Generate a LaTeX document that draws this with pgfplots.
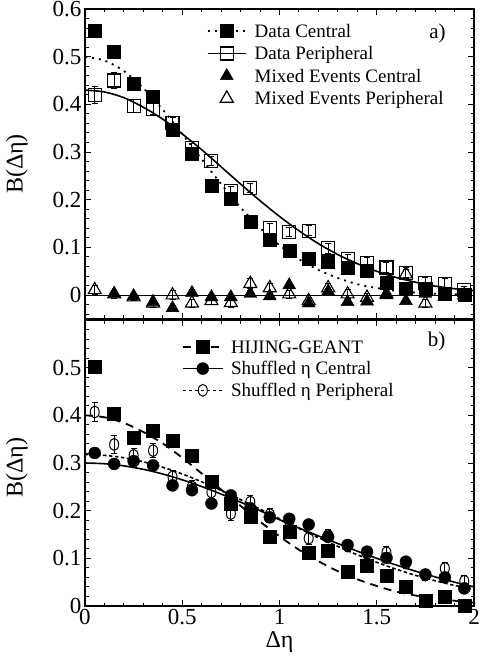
\documentclass[border=0pt]{standalone}
\usepackage{fontspec}
\setmainfont{Liberation Serif}
\usepackage{pgfplots}
\pgfplotsset{compat=1.18}
\tikzset{
 dotline/.style={line width=1.8pt, dash pattern=on 2pt off 5pt},
 fitline/.style={line width=1.6pt},
 longdash/.style={line width=1.8pt, dash pattern=on 8pt off 6pt},
 shortdash/.style={line width=1.6pt, dash pattern=on 3.5pt off 2.5pt},
}
\pgfplotsset{
 panel/.style={
  scale only axis, width=389pt, xmin=0, xmax=2,
  axis line style={line width=1.3pt},
  tick align=inside,
  major tick length=6pt, minor tick length=3.5pt,
  every tick/.style={black, line width=1pt},
  xtick={0,0.5,1,1.5,2},
  minor xtick={0.1,0.2,...,1.9},
  tick label style={font=\fontsize{23}{26}\selectfont},
  /pgf/number format/assume math mode=true,
  label style={font=\fontsize{24}{28}\selectfont},
  legend cell align=left,
  legend style={draw=none, fill=none, inner sep=0pt, anchor=north west,
    font=\fontsize{19}{22}\selectfont,
    nodes={inner sep=0pt, text height=14.5pt, text depth=2pt}},
 },
}
\begin{document}
\begin{tikzpicture}
% ---------------- panel a ----------------
\begin{axis}[panel, name=a, at={(0pt,287pt)}, anchor=south west,
  height=310pt, ymin=-0.05, ymax=0.6,
  ytick={0,0.1,0.2,0.3,0.4,0.5,0.6},
  minor ytick={-0.04,-0.02,0.02,0.04,0.06,0.08,0.12,0.14,0.16,0.18,0.22,0.24,0.26,0.28,0.32,0.34,0.36,0.38,0.42,0.44,0.46,0.48,0.52,0.54,0.56,0.58},
  xticklabels={},
  ylabel={B(Δη)},
  ylabel style={at={(axis description cs:-0.175,0.5)}, anchor=center},
  legend style={at={(0.3128,0.9566)}, row sep=6pt, column sep=8pt},
]
\addlegendimage{legend image code/.code={
  \path[draw=none,fill=none] (0pt,-6pt) rectangle (38pt,6pt);
  \draw[black,dotline] (0pt,0pt) -- (38pt,0pt);
  \draw[black,solid] plot[only marks, mark=square*, mark size=6.5pt] coordinates {(19pt,0pt)};}}
\addlegendentry{Data Central}
\addlegendimage{legend image code/.code={
  \path[draw=none,fill=none] (0pt,-6pt) rectangle (38pt,6pt);
  \draw[black,fitline] (0pt,0pt) -- (38pt,0pt);
  \draw[black,line width=1.2pt] plot[only marks, mark=square, mark size=6.5pt, mark options={fill=white}] coordinates {(19pt,0pt)};}}
\addlegendentry{Data Peripheral}
\addlegendimage{legend image code/.code={
  \path[draw=none,fill=none] (0pt,-6pt) rectangle (38pt,6pt);
  \draw[black] plot[only marks, mark=triangle*, mark size=7.5pt] coordinates {(19pt,0pt)};}}
\addlegendentry{Mixed Events Central}
\addlegendimage{legend image code/.code={
  \path[draw=none,fill=none] (0pt,-6pt) rectangle (38pt,6pt);
  \draw[black,line width=1.2pt] plot[only marks, mark=triangle, mark size=7.5pt] coordinates {(19pt,0pt)};}}
\addlegendentry{Mixed Events Peripheral}

\addplot[black, line width=1.2pt, forget plot] coordinates {(0,0) (2,0)};

% Mixed events peripheral (open triangles)
\addplot[black, only marks, mark=triangle, mark size=7.5pt, line width=1.1pt, forget plot,
  error bars/.cd, y dir=both, y explicit,
  error bar style={line width=1pt}, error mark options={rotate=90, mark size=3pt, line width=1pt}]
 coordinates {
 (0.05,0.011) +- (0,0.010) (0.15,0.002) +- (0,0.008) (0.25,-0.004) +- (0,0.008)
 (0.35,-0.017) +- (0,0.009) (0.45,0.000) +- (0,0.010) (0.55,-0.017) +- (0,0.008)
 (0.65,-0.012) +- (0,0.008) (0.75,-0.016) +- (0,0.009) (0.85,0.024) +- (0,0.010)
 (0.95,0.015) +- (0,0.009) (1.05,0.002) +- (0,0.008) (1.15,-0.012) +- (0,0.008)
 (1.25,0.015) +- (0,0.009) (1.35,0.002) +- (0,0.009) (1.45,-0.005) +- (0,0.008)
 (1.55,0.002) +- (0,0.008) (1.65,0.044) +- (0,0.010) (1.75,-0.017) +- (0,0.008)
 (1.85,-0.002) +- (0,0.008) (1.95,0.000) +- (0,0.008)
 };
% Mixed events central (filled triangles)
\addplot[black, only marks, mark=triangle*, mark size=7.5pt, forget plot,
  error bars/.cd, y dir=both, y explicit,
  error bar style={line width=1pt}, error mark options={rotate=90, mark size=3pt, line width=1pt}]
 coordinates {
 (0.15,0.003) +- (0,0.006) (0.25,-0.002) +- (0,0.006) (0.35,-0.014) +- (0,0.006)
 (0.45,-0.027) +- (0,0.006) (0.55,0.005) +- (0,0.006) (0.65,-0.004) +- (0,0.006)
 (0.75,-0.004) +- (0,0.006) (0.85,0.003) +- (0,0.006) (0.95,-0.002) +- (0,0.006)
 (1.05,0.021) +- (0,0.006) (1.15,-0.017) +- (0,0.006) (1.25,0.008) +- (0,0.006)
 (1.35,-0.014) +- (0,0.006) (1.45,-0.013) +- (0,0.006) (1.55,0.000) +- (0,0.006)
 (1.65,-0.012) +- (0,0.006) (1.75,0.003) +- (0,0.006) (1.85,-0.003) +- (0,0.006)
 (1.95,0.000) +- (0,0.006)
 };
% Data peripheral (open squares)
\addplot[black, only marks, mark=square, mark size=6.5pt, line width=1.1pt, forget plot,
  error bars/.cd, y dir=both, y explicit,
  error bar style={line width=1pt}, error mark options={rotate=90, mark size=3pt, line width=1pt}]
 coordinates {
 (0.05,0.420) +- (0,0.018) (0.15,0.450) +- (0,0.017) (0.25,0.396) +- (0,0.014)
 (0.35,0.390) +- (0,0.012) (0.45,0.361) +- (0,0.011) (0.55,0.309) +- (0,0.010)
 (0.65,0.281) +- (0,0.010) (0.75,0.218) +- (0,0.010) (0.85,0.225) +- (0,0.010)
 (0.95,0.140) +- (0,0.010) (1.05,0.132) +- (0,0.010) (1.15,0.135) +- (0,0.010)
 (1.25,0.098) +- (0,0.010) (1.35,0.075) +- (0,0.010) (1.45,0.068) +- (0,0.010)
 (1.55,0.058) +- (0,0.010) (1.65,0.047) +- (0,0.010) (1.75,0.026) +- (0,0.010)
 (1.85,0.024) +- (0,0.010) (1.95,0.010) +- (0,0.008)
 };
% Data central (filled squares)
\addplot[black, only marks, mark=square*, mark size=6.5pt, forget plot]
 coordinates {
 (0.05,0.555) (0.15,0.511) (0.25,0.444) (0.35,0.416) (0.45,0.346)
 (0.55,0.297) (0.65,0.230) (0.75,0.202) (0.85,0.153) (0.95,0.116)
 (1.05,0.094) (1.15,0.076) (1.25,0.071) (1.35,0.057) (1.45,0.052)
 (1.55,0.026) (1.65,0.014) (1.75,0.013) (1.85,0.004) (1.95,0.000)
 };
% fit curves
\addplot[black, fitline, smooth, forget plot] coordinates {
 (0,0.430) (0.1,0.426) (0.2,0.414) (0.3,0.394) (0.4,0.369) (0.5,0.338)
 (0.6,0.305) (0.7,0.269) (0.8,0.233) (0.9,0.198) (1.0,0.165) (1.1,0.135)
 (1.2,0.108) (1.3,0.085) (1.4,0.066) (1.5,0.050) (1.6,0.037) (1.7,0.027)
 (1.8,0.019) (1.9,0.0135) (2.0,0.0093)
 };
\addplot[black, dotline, smooth, forget plot] coordinates {
 (0,0.500) (0.1,0.492) (0.2,0.470) (0.3,0.434) (0.4,0.389) (0.5,0.338)
 (0.6,0.285) (0.7,0.233) (0.8,0.184) (0.9,0.141) (1.0,0.105) (1.1,0.0755)
 (1.2,0.053) (1.3,0.036) (1.4,0.023) (1.5,0.015) (1.6,0.009) (1.7,0.0055)
 (1.8,0.003) (1.9,0.002) (2.0,0.001)
 };
\node[font=\fontsize{21}{24}\selectfont] at (axis description cs:0.906,0.92) {a)};
\end{axis}
% ---------------- panel b ----------------
\begin{axis}[panel, name=b, at={(0pt,0pt)}, anchor=south west,
  height=286pt, ymin=0, ymax=0.6,
  ytick={0,0.1,0.2,0.3,0.4,0.5,0.6},
  yticklabels={0,0.1,0.2,0.3,0.4,0.5,{}},
  minor ytick={0.02,0.04,0.06,0.08,0.12,0.14,0.16,0.18,0.22,0.24,0.26,0.28,0.32,0.34,0.36,0.38,0.42,0.44,0.46,0.48,0.52,0.54,0.56,0.58},
  xlabel={Δη},
  xlabel style={at={(axis description cs:0.5,-0.126)}, anchor=center},
  ylabel={B(Δη)},
  ylabel style={at={(axis description cs:-0.175,0.483)}, anchor=center},
  legend style={at={(0.2486,0.9355)}, row sep=5.2pt, column sep=7.3pt},
]
\addlegendimage{legend image code/.code={
  \path[draw=none,fill=none] (0pt,-6pt) rectangle (40pt,6pt);
  \draw[black,longdash] (0pt,0pt) -- (40pt,0pt);
  \draw[black,solid] plot[only marks, mark=square*, mark size=6.5pt] coordinates {(20pt,0pt)};}}
\addlegendentry{HIJING-GEANT}
\addlegendimage{legend image code/.code={
  \path[draw=none,fill=none] (0pt,-6pt) rectangle (40pt,6pt);
  \draw[black,fitline] (0pt,0pt) -- (40pt,0pt);
  \draw[black] plot[only marks, mark=*, mark size=6pt] coordinates {(20pt,0pt)};}}
\addlegendentry{Shuffled η Central}
\addlegendimage{legend image code/.code={
  \path[draw=none,fill=none] (0pt,-6pt) rectangle (40pt,6pt);
  \draw[black,shortdash] (0pt,0pt) -- (40pt,0pt);
  \draw[black,line width=1pt,solid] plot[only marks, mark=o, mark size=6pt, mark options={solid, xscale=0.75}] coordinates {(20pt,0pt)};}}
\addlegendentry{Shuffled η Peripheral}

% HIJING-GEANT (filled squares)
\addplot[black, only marks, mark=square*, mark size=6.5pt, forget plot]
 coordinates {
 (0.05,0.503) (0.15,0.404) (0.25,0.353) (0.35,0.367) (0.45,0.346)
 (0.55,0.316) (0.65,0.260) (0.75,0.215) (0.85,0.188) (0.95,0.145)
 (1.05,0.156) (1.15,0.111) (1.25,0.115) (1.35,0.071) (1.45,0.085)
 (1.55,0.063) (1.65,0.040) (1.75,0.011) (1.85,0.020) (1.95,0.001)
 };
% Shuffled peripheral (open circles)
\addplot[black, only marks, mark=o, mark size=6pt, mark options={xscale=0.75}, line width=1pt, forget plot,
  error bars/.cd, y dir=both, y explicit,
  error bar style={line width=1pt}, error mark options={rotate=90, mark size=3pt, line width=1pt}]
 coordinates {
 (0.05,0.407) +- (0,0.019) (0.15,0.339) +- (0,0.019) (0.25,0.316) +- (0,0.015)
 (0.35,0.326) +- (0,0.015) (0.45,0.271) +- (0,0.014) (0.55,0.250) +- (0,0.013)
 (0.65,0.239) +- (0,0.013) (0.75,0.194) +- (0,0.015) (0.85,0.218) +- (0,0.013)
 (0.95,0.192) +- (0,0.012) (1.05,0.178) +- (0,0.012) (1.15,0.142) +- (0,0.012)
 (1.25,0.148) +- (0,0.012) (1.35,0.126) +- (0,0.012) (1.45,0.110) +- (0,0.012)
 (1.55,0.112) +- (0,0.012) (1.65,0.090) +- (0,0.012) (1.75,0.065) +- (0,0.012)
 (1.85,0.079) +- (0,0.012) (1.95,0.052) +- (0,0.012)
 };
% Shuffled central (filled circles)
\addplot[black, only marks, mark=*, mark size=6pt, forget plot]
 coordinates {
 (0.05,0.321) (0.15,0.298) (0.25,0.304) (0.35,0.295) (0.45,0.253)
 (0.55,0.243) (0.65,0.215) (0.75,0.232) (0.85,0.205) (0.95,0.186)
 (1.05,0.183) (1.15,0.171) (1.25,0.145) (1.35,0.128) (1.45,0.114)
 (1.55,0.101) (1.65,0.093) (1.75,0.066) (1.85,0.060) (1.95,0.037)
 };
% curves
\addplot[black, longdash, smooth, forget plot] coordinates {
 (0,0.400) (0.1,0.396) (0.2,0.384) (0.3,0.365) (0.4,0.341) (0.5,0.311)
 (0.6,0.278) (0.7,0.244) (0.8,0.210) (0.9,0.177) (1.0,0.146) (1.1,0.118)
 (1.2,0.094) (1.3,0.073) (1.4,0.056) (1.5,0.042) (1.6,0.030) (1.7,0.022)
 (1.8,0.015) (1.9,0.011) (2.0,0.007)
 };
\addplot[black, fitline, smooth, forget plot] coordinates {
 (0,0.300) (0.1,0.2985) (0.2,0.294) (0.3,0.2867) (0.4,0.2769) (0.5,0.2647)
 (0.6,0.2506) (0.7,0.2348) (0.8,0.2178) (0.9,0.2000) (1.0,0.1810) (1.1,0.1638)
 (1.2,0.1470) (1.3,0.1310) (1.4,0.1150) (1.5,0.1000) (1.6,0.0860) (1.7,0.0730)
 (1.8,0.0610) (1.9,0.0500) (2.0,0.0400)
 };
\addplot[black, shortdash, smooth, forget plot] coordinates {
 (0,0.318) (0.1,0.316) (0.2,0.311) (0.3,0.3025) (0.4,0.291) (0.5,0.277)
 (0.6,0.2606) (0.7,0.2425) (0.8,0.2232) (0.9,0.2032) (1.0,0.1829) (1.1,0.1628)
 (1.2,0.1434) (1.3,0.1249) (1.4,0.1075) (1.5,0.0916) (1.6,0.0772) (1.7,0.0643)
 (1.8,0.053) (1.9,0.0432) (2.0,0.0348)
 };
\node[font=\fontsize{21}{24}\selectfont] at (axis description cs:0.904,0.924) {b)};
\end{axis}
\pgfresetboundingbox
\path (-85pt,-52pt) rectangle (397pt,606pt);
\end{tikzpicture}
\end{document}
